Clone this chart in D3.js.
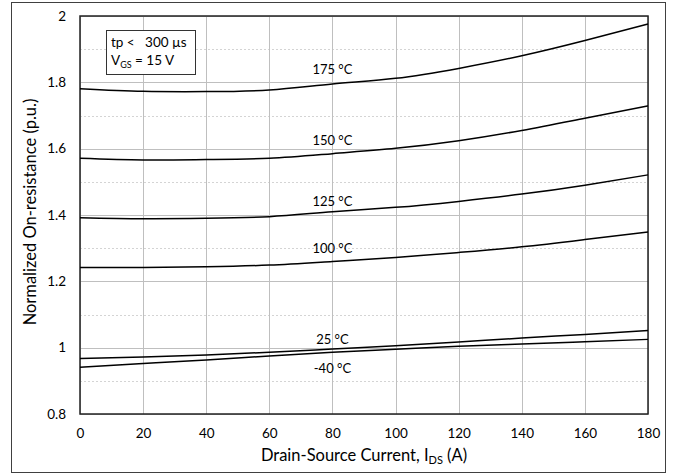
<!DOCTYPE html>
<html><head><meta charset="utf-8">
<script src="https://cdn.jsdelivr.net/npm/d3@7"></script>
<style>body{margin:0;background:#fff}svg{display:block}text{font-family:Lato,"Open Sans",sans-serif;fill:#000}</style>
</head><body><svg id="c" width="676" height="474"></svg>
<script>
const current = [0, 20, 40, 60, 80, 100, 120, 140, 160, 180];
const r175 = [1.781, 1.773, 1.772, 1.777, 1.795, 1.812, 1.842, 1.880, 1.926, 1.976];
const r150 = [1.571, 1.566, 1.567, 1.571, 1.585, 1.601, 1.624, 1.655, 1.692, 1.729];
const r125 = [1.392, 1.389, 1.390, 1.395, 1.410, 1.423, 1.441, 1.463, 1.490, 1.521];
const r100 = [1.242, 1.242, 1.244, 1.249, 1.260, 1.272, 1.287, 1.304, 1.326, 1.349];
const r25  = [0.967, 0.972, 0.978, 0.986, 0.996, 1.006, 1.017, 1.029, 1.040, 1.052];
const rm40 = [0.941, 0.952, 0.963, 0.975, 0.986, 0.995, 1.004, 1.011, 1.018, 1.025];
const seriesNames = ["175 °C", "150 °C", "125 °C", "100 °C", "25 °C", "-40 °C"];
const seriesValues = [r175, r150, r125, r100, r25, rm40];
const labelAt = [80, 80, 80, 80, 80, 80];
const labelVal = [1.825, 1.611, 1.428, 1.284, 1.011, 0.923];
const xTicks = [0, 20, 40, 60, 80, 100, 120, 140, 160, 180];
const yTicks = [0.8, 1, 1.2, 1.4, 1.6, 1.8, 2];
const yMinor = [0.9, 1.1, 1.3, 1.5, 1.7, 1.9];

const svg = d3.select("#c");
const L = 80, R = 648, T = 16, B = 414;
const x = d3.scaleLinear().domain([0, 180]).range([L, R]);
const y = d3.scaleLinear().domain([0.8, 2]).range([B, T]);

svg.append("rect").attr("x", 11.5).attr("y", 2.5).attr("width", 654).attr("height", 470)
  .attr("fill", "#fff").attr("stroke", "#404040").attr("stroke-width", 1);

const g = svg.append("g");
g.selectAll(".ymin").data(yMinor).join("line")
  .attr("x1", L).attr("x2", R).attr("y1", d => Math.round(y(d)) + 0.5).attr("y2", d => Math.round(y(d)) + 0.5)
  .attr("stroke", "#d4d4d4").attr("stroke-dasharray", "2,2").attr("stroke-width", 1);
g.selectAll(".ymaj").data(yTicks).join("line")
  .attr("x1", L).attr("x2", R).attr("y1", d => Math.round(y(d)) + 0.5).attr("y2", d => Math.round(y(d)) + 0.5)
  .attr("stroke", "#bfbfbf").attr("stroke-width", 1);
g.selectAll(".xmaj").data(xTicks).join("line")
  .attr("y1", T).attr("y2", B).attr("x1", d => Math.round(x(d)) + 0.5).attr("x2", d => Math.round(x(d)) + 0.5)
  .attr("stroke", "#bfbfbf").attr("stroke-width", 1);

const xAxis = svg.append("g").attr("transform", `translate(0,${B})`)
  .call(d3.axisBottom(x).tickValues(xTicks).tickSize(0).tickPadding(14).tickFormat(d3.format("d")));
const yAxis = svg.append("g").attr("transform", `translate(${L},0)`)
  .call(d3.axisLeft(y).tickValues(yTicks).tickSize(0).tickPadding(14).tickFormat(d => d3.format("")(+d.toFixed(1))));
[xAxis, yAxis].forEach(a => { a.select(".domain").remove(); a.selectAll("text").attr("font-size", 13.5).attr("font-family", "Lato,'Open Sans',sans-serif").attr("fill", "#000"); });

svg.append("rect").attr("x", L).attr("y", T).attr("width", R - L).attr("height", B - T)
  .attr("fill", "none").attr("stroke", "#222").attr("stroke-width", 1.5);

const line = d3.line().x((d, i) => x(current[i])).y(d => y(d)).curve(d3.curveNatural);
svg.selectAll(".curve").data(seriesValues).join("path")
  .attr("d", d => line(d)).attr("fill", "none").attr("stroke", "#000").attr("stroke-width", 1.5);

svg.selectAll(".lbl").data(seriesNames).join("text")
  .attr("x", (d, i) => x(labelAt[i])).attr("y", (d, i) => y(labelVal[i]))
  .attr("text-anchor", "middle").attr("font-size", 13).text(d => d);

svg.append("rect").attr("x", 106.5).attr("y", 30.5).attr("width", 89).attr("height", 44)
  .attr("fill", "#fff").attr("stroke", "#333").attr("stroke-width", 1);
svg.append("text").attr("x", 111).attr("y", 47).attr("font-size", 13.5).attr("xml:space", "preserve").text("tp <   300 µs");
const t2 = svg.append("text").attr("x", 111).attr("y", 65).attr("font-size", 13.5);
t2.append("tspan").text("V");
t2.append("tspan").attr("font-size", 9).attr("dy", 3).text("GS");
t2.append("tspan").attr("dy", -3).text(" = 15 V");

const xt = svg.append("text").attr("x", (L + R) / 2).attr("y", 461).attr("text-anchor", "middle").attr("font-size", 16.5);
xt.append("tspan").text("Drain-Source Current, I");
xt.append("tspan").attr("font-size", 11).attr("dy", 3).text("DS");
xt.append("tspan").attr("dy", -3).text(" (A)");
svg.append("text").attr("transform", `translate(36,${(T + B) / 2 - 3}) rotate(-90)`)
  .attr("text-anchor", "middle").attr("font-size", 16.5).text("Normalized On-resistance (p.u.)");
</script></body></html>
